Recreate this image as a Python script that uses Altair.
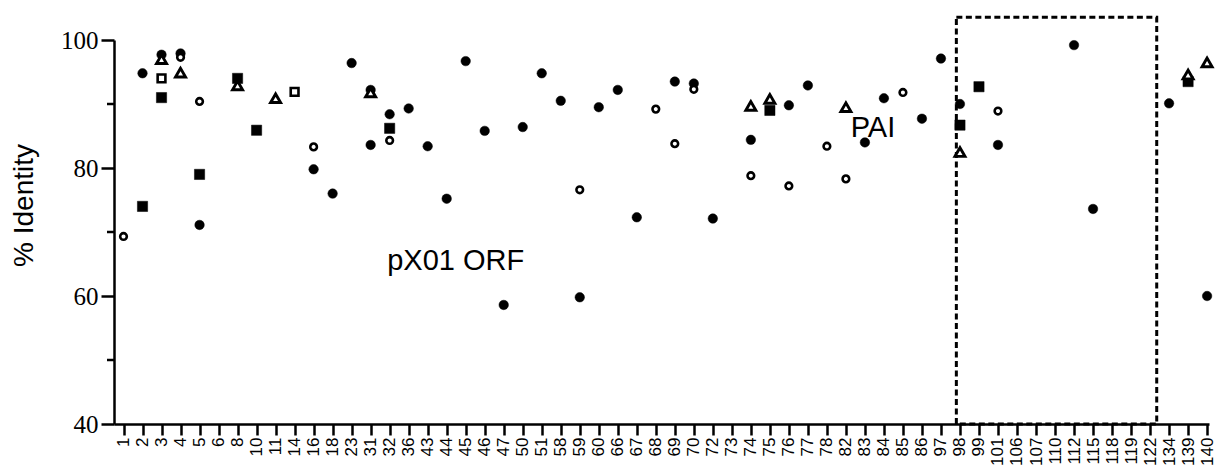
import altair as alt
import pandas as pd

# x-axis categories (tick labels)
categories = ["1", "2", "3", "4", "5", "6", "8", "10", "11", "14", "16", "18", "23", "31",
              "32", "36", "43", "44", "45", "46", "47", "50", "51", "58", "59", "60", "66",
              "67", "68", "69", "70", "72", "73", "74", "75", "76", "77", "78", "82", "83",
              "84", "85", "86", "97", "98", "99", "101", "106", "107", "110", "112", "115",
              "118", "119", "122", "134", "139", "140"]

# filled circles
fc_cat = ["2", "3", "4", "5", "16", "18", "23", "31", "31", "32", "36", "43", "44", "45", "46",
          "47", "50", "51", "58", "59", "60", "66", "67", "69", "70", "72", "74", "76", "77",
          "83", "84", "86", "97", "98", "101", "112", "115", "134", "140"]
fc_val = [94.8, 97.7, 97.9, 71.1, 79.8, 76.0, 96.4, 92.2, 83.6, 88.4, 89.3, 83.4, 75.2, 96.7, 85.8,
          58.6, 86.4, 94.8, 90.5, 59.8, 89.5, 92.2, 72.3, 93.5, 93.2, 72.1, 84.4, 89.8, 92.9,
          84.0, 90.9, 87.7, 97.1, 90.0, 83.6, 99.2, 73.6, 90.1, 60.0]

# open circles
oc_cat = ["1", "4", "5", "16", "32", "59", "68", "69", "70", "74", "76", "78", "82", "85", "101"]
oc_val = [69.3, 97.3, 90.4, 83.3, 84.3, 76.6, 89.2, 83.8, 92.3, 78.8, 77.2, 83.4, 78.3, 91.8, 88.9]

# filled squares
fs_cat = ["2", "3", "5", "8", "10", "32", "75", "98", "99", "139"]
fs_val = [74.0, 91.0, 79.0, 94.0, 85.9, 86.2, 89.0, 86.7, 92.7, 93.5]

# open squares
os_cat = ["3", "14"]
os_val = [94.0, 91.9]

# open triangles
tr_cat = ["3", "4", "8", "11", "31", "74", "75", "82", "98", "139", "140"]
tr_val = [97.0, 94.9, 92.9, 90.9, 91.8, 89.7, 90.8, 89.5, 82.5, 94.6, 96.5]

# annotations (position in category-index / % units)
label_text = ["pX01 ORF", "PAI"]
label_x = [13.87, 38.25]
label_y = [64.1, 84.9]

# dashed box around the PAI region
box_x0 = [43.81]
box_x1 = [54.35]
box_y0 = [40]
box_y1 = [103.55]

minor_ticks = [50, 70, 90]


def frame(cats, vals):
    return pd.DataFrame({"idx": [categories.index(c) for c in cats], "val": vals})


n = len(categories)
label_expr = "[" + ",".join("'%s'" % c for c in categories) + "][datum.value]"

xscale = alt.Scale(domain=[-0.5, n - 0.9], nice=False, zero=False)
yscale = alt.Scale(domain=[40, 100], nice=False, zero=False)

xaxis = alt.Axis(values=list(range(n)), labelExpr=label_expr, labelAngle=270,
                 labelFont="Liberation Sans", labelFontSize=17, labelColor="black",
                 labelPadding=2, labelOverlap=False, labelFlush=False,
                 tickSize=11, tickWidth=2.5, tickColor="black",
                 domainWidth=2.5, domainColor="black", grid=False, title="")

yaxis = alt.Axis(values=[40, 60, 80, 100], labelFont="Liberation Serif", labelFontSize=25,
                 labelColor="black", labelPadding=3, tickSize=13, tickWidth=2.5,
                 tickColor="black", domainWidth=2.5, domainColor="black", grid=False,
                 title="% Identity", titleFont="Liberation Sans", titleFontSize=28,
                 titleFontWeight="normal", titleColor="black", titleAngle=270,
                 titleX=-90, titleY=165, titleAlign="center", titleBaseline="middle")


def xenc(field="idx"):
    return alt.X(field + ":Q", scale=xscale, axis=xaxis)


def yenc(field="val"):
    return alt.Y(field + ":Q", scale=yscale, axis=yaxis)


box = alt.Chart(pd.DataFrame({"x0": box_x0, "x1": box_x1, "y0": box_y0, "y1": box_y1})).mark_rect(
    fillOpacity=0, stroke="black", strokeWidth=3, strokeDash=[6, 3.5]
).encode(x=xenc("x0"), x2="x1:Q", y=yenc("y0"), y2="y1:Q")

minor = alt.Chart(pd.DataFrame({"val": minor_ticks})).mark_rule(
    color="black", strokeWidth=2.5
).encode(y=yenc("val"), x=alt.value(-7), x2=alt.value(0))

fsq = alt.Chart(frame(fs_cat, fs_val)).mark_point(
    shape="square", fill="black", stroke="black", strokeWidth=0.5, size=105, opacity=1, fillOpacity=1
).encode(x=xenc(), y=yenc())

fci = alt.Chart(frame(fc_cat, fc_val)).mark_point(
    shape="circle", fill="black", stroke="black", strokeWidth=0.5, size=90, opacity=1, fillOpacity=1
).encode(x=xenc(), y=yenc())

tri = alt.Chart(frame(tr_cat, tr_val)).mark_point(
    shape="triangle-up", fill="white", stroke="black", strokeWidth=2.9, size=100, opacity=1, fillOpacity=1
).encode(x=xenc(), y=yenc())

osq = alt.Chart(frame(os_cat, os_val)).mark_point(
    shape="square", fill="white", stroke="black", strokeWidth=2.6, size=60, opacity=1, fillOpacity=1
).encode(x=xenc(), y=yenc())

oci = alt.Chart(frame(oc_cat, oc_val)).mark_point(
    shape="circle", fill="white", stroke="black", strokeWidth=2.6, size=44, opacity=1, fillOpacity=1
).encode(x=xenc(), y=yenc())

labels = alt.Chart(pd.DataFrame({"x": label_x, "y": label_y, "t": label_text})).mark_text(
    align="left", baseline="alphabetic", font="Liberation Sans", fontSize=29, color="black"
).encode(x=xenc("x"), y=yenc("y"), text="t:N")

chart = alt.layer(box, minor, fsq, fci, tri, osq, oci, labels).properties(
    width=1095, height=384,
    autosize=alt.AutoSizeParams(type="none"),
    padding={"left": 106, "top": 32, "right": 8, "bottom": 41},
    background="white",
).configure_view(strokeWidth=0)

chart.save("out.html", embed_options={"renderer": "svg", "actions": False})
